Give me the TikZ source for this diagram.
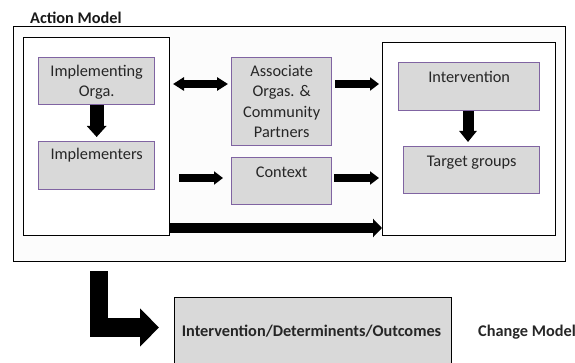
\documentclass[tikz,border=0pt]{standalone}
\usepackage{fontspec}
\setmainfont{Carlito}
\usetikzlibrary{arrows.meta}
\definecolor{boxpurple}{HTML}{8064A2}
\definecolor{boxgray}{HTML}{D9D9D9}
\definecolor{outerfill}{HTML}{FCFCFC}
\newcommand{\topstrut}{\rule{0pt}{14pt}}
\tikzset{
  framebox/.style={draw=black, line width=1.4pt},
  graybox/.style={draw=boxpurple, fill=boxgray, line width=1.3pt},
  boxtext/.style={font=\fontsize{16.3}{20.5}\selectfont, text=black!85, align=center, anchor=north, inner sep=0pt},
  thinarrow/.style={line width=7.5pt, -{Triangle[width=13pt,length=9pt]}},
}
\begin{document}
\begin{tikzpicture}[x=1pt,y=-1pt]
\useasboundingbox (0,0) rectangle (575,363);
% outer frame
\node[framebox, fill=outerfill, minimum width=552pt, minimum height=235pt, inner sep=0pt, anchor=north west] (outer) at (12.7,26) {};
\node[font=\fontsize{16.3}{18}\bfseries, text=black!90, anchor=base west, inner sep=0pt] (actlabel) at (30,23.5) {Action Model};
% inner frames
\node[framebox, fill=white, minimum width=146pt, minimum height=198pt, inner sep=0pt, anchor=north west] (left) at (23,37) {};
\node[framebox, fill=white, minimum width=173pt, minimum height=193pt, inner sep=0pt, anchor=north west] (right) at (382,42) {};
% gray boxes
\node[graybox, minimum width=116pt, minimum height=47pt, inner sep=0pt, anchor=north west] (impl) at (38,57) {};
\node[boxtext] (impltext) at ([yshift=-5pt]impl.north) {\topstrut Implementing\\Orga.};
\node[graybox, minimum width=116pt, minimum height=48pt, inner sep=0pt, anchor=north west] (imps) at (38,141) {};
\node[boxtext] (impstext) at ([yshift=-4pt]imps.north) {\topstrut Implementers};
\node[graybox, minimum width=100pt, minimum height=88pt, inner sep=0pt, anchor=north west] (assoc) at (231,57) {};
\node[boxtext] (assoctext) at ([yshift=-5pt]assoc.north) {\topstrut Associate\\Orgas. \&\\Community\\Partners};
\node[graybox, minimum width=100pt, minimum height=47pt, inner sep=0pt, anchor=north west] (ctx) at (231,157) {};
\node[boxtext] (ctxtext) at ([yshift=-6pt]ctx.north) {\topstrut Context};
\node[graybox, minimum width=141pt, minimum height=48pt, inner sep=0pt, anchor=north west] (interv) at (398,62) {};
\node[boxtext] (intervtext) at ([yshift=-6pt]interv.north) {\topstrut Intervention};
\node[graybox, minimum width=136pt, minimum height=47pt, inner sep=0pt, anchor=north west] (target) at (403,146) {};
\node[boxtext] (targettext) at ([yshift=-6pt]target.north) {\topstrut Target groups};
% change model box
\node[draw=black, fill=boxgray, line width=1.4pt, minimum width=277pt, minimum height=75pt, inner sep=0pt, anchor=north west] (change) at (174,297) {};
\node[font=\fontsize{16.3}{18}\bfseries, text=black!85, inner sep=0pt, anchor=base] (changetext) at (311.5,336) {Intervention/Determinents/Outcomes};
\node[font=\fontsize{16.3}{18}\bfseries, text=black!85, inner sep=0pt, anchor=base west] (cmlabel) at (478,336.5) {Change Model};
% arrows
\draw[line width=14pt, -{Triangle[width=19pt,length=11pt]}] (impl.south) -- ([yshift=4pt]imps.north);
\draw[line width=11pt, -{Triangle[width=17pt,length=11pt]}] (interv.south -| 468,0) -- (468,142);
\draw[line width=7.5pt, {Triangle[width=13pt,length=11pt]}-{Triangle[width=13pt,length=11pt]}] (173,84) -- (228,84);
\coordinate (a1s) at (179,178);
\draw[thinarrow] (a1s) -- ([xshift=-8pt]ctx.west |- a1s);
\draw[thinarrow] (assoc.east |- 334,84) ++(3pt,0) -- (379,84);
\draw[thinarrow] (334,178) -- (379,178);
\draw[line width=10pt, -{Triangle[width=18pt,length=9pt]}] (left.east |- 0,228) -- (right.west |- 0,228);
% bent arrow
\draw[line width=18.5pt, line join=miter, -{Triangle[width=37pt,length=19pt]}] (99,271) |- (159,327.5);
\end{tikzpicture}
\end{document}
